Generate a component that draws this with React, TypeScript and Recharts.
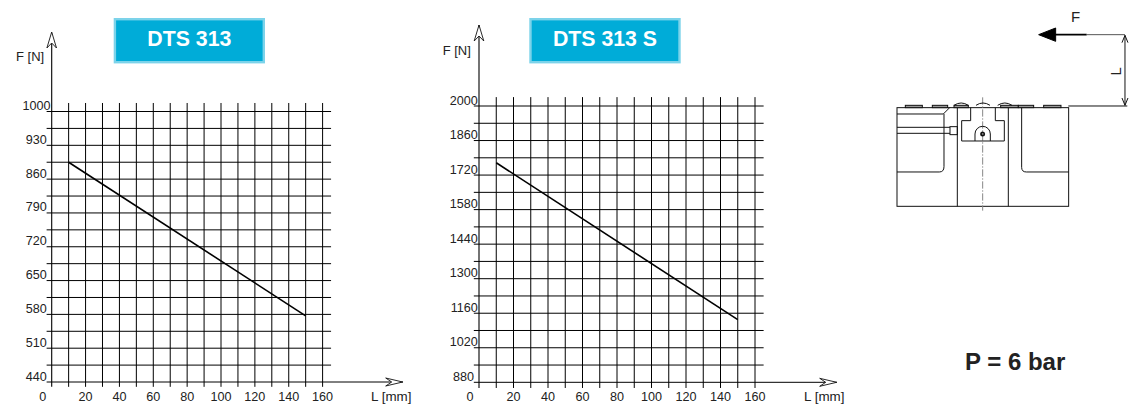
import React from "react";
import { LineChart, Line, XAxis, YAxis, ReferenceLine } from "recharts";

const lengthTicks = [0, 20, 40, 60, 80, 100, 120, 140, 160];
const lengthGrid = [0, 10, 20, 30, 40, 50, 60, 70, 80, 90, 100, 110, 120, 130, 140, 150, 160];

const forceTicks313 = [440, 510, 580, 650, 720, 790, 860, 930, 1000];
const forceGrid313 = [440, 475, 510, 545, 580, 615, 650, 685, 720, 755, 790, 825, 860, 895, 930, 965, 1000];
const curve313 = [
  { l: 10, f: 895 },
  { l: 150, f: 577 },
];

const forceTicks313S = [880, 1020, 1160, 1300, 1440, 1580, 1720, 1860, 2000];
const forceGrid313S = [880, 950, 1020, 1090, 1160, 1230, 1300, 1370, 1440, 1510, 1580, 1650, 1720, 1790, 1860, 1930, 2000];
const curve313S = [
  { l: 10, f: 1770 },
  { l: 150, f: 1134 },
];

const FONT = "'Liberation Sans', Arial, sans-serif";
const INK = "#222";
const Y_AXIS_WIDTH = 30;
const X_AXIS_HEIGHT = 20;

type PanelProps = {
  left: number;
  marginLeft: number;
  marginRight: number;
  marginTop: number;
  marginBottom: number;
  yDomain: [number, number];
  yTicks: number[];
  yGrid: number[];
  data: { l: number; f: number }[];
  // how far the grid and axes run past the plot, in data units
  gridTop: number;
  gridBottom: number;
  axisTop: number;
};

const GRID_LEFT = -3;
const GRID_RIGHT = 165;
const AXIS_RIGHT = 207.5;

function renderForceTick({ x, y, payload }: any) {
  const label = String(payload.value);
  const dx = label.length > 3 ? -1.2 : -5;
  return (
    <text key={label} x={x + dx} y={y - 1.5} textAnchor="end" fontFamily={FONT} fontSize={12.6} fill={INK}>
      {label}
    </text>
  );
}

function renderLengthTick({ x, y, payload }: any) {
  return (
    <text key={payload.value} x={payload.value === 0 ? x - 9 : x} y={y + 18.5} textAnchor="middle" fontFamily={FONT} fontSize={12.6} fill={INK}>
      {payload.value}
    </text>
  );
}

function Panel(p: PanelProps) {
  return (
    <div style={{ position: "absolute", left: p.left, top: 0 }}>
      <LineChart
        width={420}
        height={417}
        data={p.data}
        margin={{
          left: p.marginLeft - Y_AXIS_WIDTH,
          right: p.marginRight,
          top: p.marginTop,
          bottom: p.marginBottom - X_AXIS_HEIGHT,
        }}
      >
        <XAxis
          dataKey="l"
          type="number"
          domain={[0, 160]}
          ticks={lengthTicks}
          interval={0}
          height={X_AXIS_HEIGHT}
          axisLine={false}
          tickLine={false}
          tickSize={0}
          tickMargin={0}
          tick={renderLengthTick}
        />
        <YAxis
          dataKey="f"
          type="number"
          domain={p.yDomain}
          ticks={p.yTicks}
          interval={0}
          width={Y_AXIS_WIDTH}
          axisLine={false}
          tickLine={false}
          tickSize={0}
          tickMargin={0}
          tick={renderForceTick}
        />
        {lengthGrid.map((l) => (
          <ReferenceLine
            key={`v${l}`}
            ifOverflow="visible"
            stroke="#000"
            strokeWidth={l === 0 ? 1.1 : 1}
            segment={[
              { x: l, y: l === 0 ? p.axisTop : p.gridTop },
              { x: l, y: p.gridBottom },
            ]}
          />
        ))}
        {p.yGrid.map((f) => (
          <ReferenceLine
            key={`h${f}`}
            ifOverflow="visible"
            stroke="#000"
            strokeWidth={1}
            segment={[
              { x: GRID_LEFT, y: f },
              { x: f === p.yDomain[0] ? AXIS_RIGHT : GRID_RIGHT, y: f },
            ]}
          />
        ))}
        <Line dataKey="f" stroke="#000" strokeWidth={1.6} dot={false} isAnimationActive={false} />
      </LineChart>
    </div>
  );
}

function TitleBox({ x, w, label }: { x: number; w: number; label: string }) {
  return (
    <g>
      <rect x={x + 1.2} y={19.2} width={w - 2.4} height={43} fill="#00acd8" stroke="#7cd3ea" strokeWidth={2.4} />
      <text x={x + w / 2} y={45.5} textAnchor="middle" fontFamily={FONT} fontWeight={700} fontSize={21.3} fill="#fff">
        {label}
      </text>
    </g>
  );
}

function Arrows({ x0, top, tip, y }: { x0: number; top: number; tip: number; y: number }) {
  return (
    <g fill="#fff" stroke="#111" strokeWidth={0.9}>
      <path d={`M${x0} ${top} L${x0 - 4.8} ${top + 16} L${x0} ${top + 11} L${x0 + 4.8} ${top + 16} Z`} />
      <path d={`M${tip} ${y} L${tip - 17} ${y - 4} L${tip - 11} ${y} L${tip - 17} ${y + 4} Z`} />
    </g>
  );
}

// Drawn at 3x, in the coordinates of a zoomed crop
function Schematic() {
  const plates = [
    [76, 127],
    [157, 203],
    [222, 265],
    [362, 415],
    [415, 461],
    [491, 543],
  ];
  const domes = [
    [222, 265],
    [288, 330],
    [353, 396],
  ];
  return (
    <g transform="translate(880 0) scale(0.3333)" fill="none" stroke="#111" strokeWidth={3}>
      <path d="M620 104H735" stroke="#555" />
      <path d="M525 104H620" strokeWidth={5} stroke="#000" />
      <path d="M476 104L527 84V124Z" fill="#000" stroke="#000" />
      <path d="M735 106V316" />
      <path d="M726 128L735 106L744 128M726 294L735 316L744 294" />
      <path d="M565 318H742" />
      <rect x={51} y={323} width={515} height={296} />
      <path d="M232 323V619M385 323V619" />
      <path d="M308 292V632" stroke="#888" strokeDasharray="22 5 4 5" />
      {plates.map(([a, b]) => (
        <rect key={a} x={a} y={316} width={b - a} height={7} fill="#999" />
      ))}
      {domes.map(([a, b]) => (
        <path key={a} d={`M${a} 316Q${(a + b) / 2} 302 ${b} 316`} />
      ))}
      <path d="M272 323V362H245V423H373V362H346V323" />
      <path d="M285 423V402A23 23 0 0 1 331 402V423" />
      <circle cx={308} cy={402} r={5} strokeWidth={5} />
      <path d="M51 342H190L210 322" />
      <path d="M192 342V500Q192 516 178 516H51" />
      <path d="M51 382H210M51 400H210" />
      <rect x={210} y={380} width={22} height={24} />
      <path d="M425 323V502Q425 516 439 516H566" />
    </g>
  );
}

export default function App() {
  return (
    <div style={{ position: "absolute", left: 0, top: 0, width: 1135, height: 417, overflow: "hidden", background: "#fff" }}>
      <Panel
        left={0}
        marginLeft={51.7}
        marginRight={97.4}
        marginTop={111.5}
        marginBottom={35}
        yDomain={[440, 1000]}
        yTicks={forceTicks313}
        yGrid={forceGrid313}
        data={curve313}
        gridTop={1017.6}
        gridBottom={430}
        axisTop={1162}
      />
      <Panel
        left={430}
        marginLeft={49}
        marginRight={95}
        marginTop={106}
        marginBottom={34.7}
        yDomain={[880, 2000]}
        yTicks={forceTicks313S}
        yGrid={forceGrid313S}
        data={curve313S}
        gridTop={2036}
        gridBottom={857}
        axisTop={2328}
      />
      <svg width={1135} height={417} style={{ position: "absolute", left: 0, top: 0 }}>
        <Arrows x0={51.7} top={32} tip={402.7} y={382} />
        <Arrows x0={479} top={25} tip={836.7} y={382.3} />
        <TitleBox x={113.7} w={151.3} label="DTS 313" />
        <TitleBox x={529.3} w={151.4} label="DTS 313 S" />
        <g fontFamily={FONT} fontSize={13} fill={INK}>
          <text x={16} y={61}>F [N]</text>
          <text x={442.7} y={54.5}>F [N]</text>
        </g>
        <g fontFamily={FONT} fontSize={13.4} fill={INK}>
          <text x={371} y={400.5}>L [mm]</text>
          <text x={804} y={400.5}>L [mm]</text>
        </g>
        <g fontFamily={FONT} fontSize={15} fill={INK}>
          <text x={1071} y={21.5}>F</text>
          <text transform="translate(1121 75.5) rotate(-90)">L</text>
        </g>
        <text x={965} y={370} fontFamily={FONT} fontWeight={700} fontSize={24} fill={INK}>
          P = 6 bar
        </text>
        <Schematic />
      </svg>
    </div>
  );
}
